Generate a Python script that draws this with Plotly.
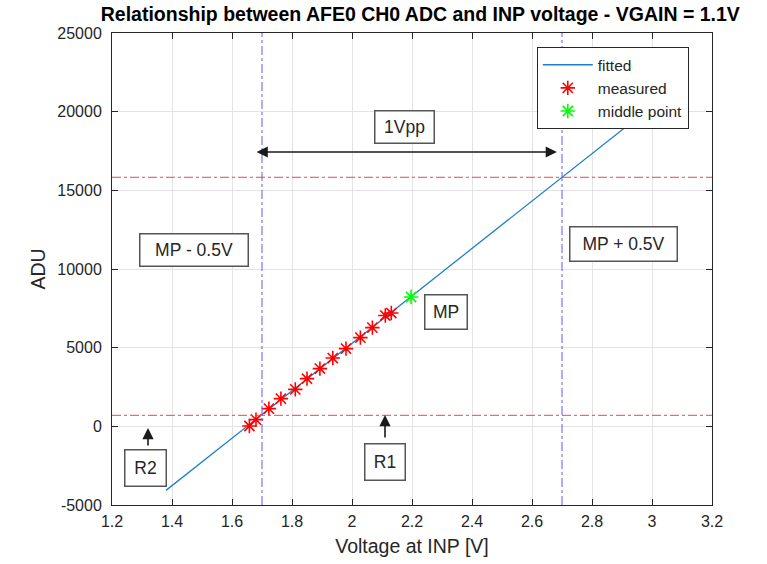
import plotly.graph_objects as go

# Data
meas_v = [1.658, 1.680, 1.723, 1.763, 1.811, 1.850, 1.893, 1.936, 1.980, 2.028, 2.068, 2.111, 2.131]
meas_adu = [20, 425, 1125, 1760, 2350, 3030, 3670, 4340, 4940, 5640, 6275, 7040, 7200]
mid_v = [2.197]
mid_adu = [8220]
fit_v = [1.38, 3.0]
fit_adu = [-4070, 20350]
vlines = [1.7, 2.7]
hlines = [700, 15830]

FONT = "Liberation Sans, Arial, Helvetica"
TXT = "#262626"

fig = go.Figure()
fig.add_trace(go.Scatter(x=fit_v, y=fit_adu, mode="lines", name="fitted",
                         line=dict(color="#1F80C8", width=1.3)))
fig.add_trace(go.Scatter(x=meas_v, y=meas_adu, mode="markers", name="measured",
                         marker=dict(symbol="asterisk-open", size=12, color="red",
                                     line=dict(color="red", width=1.6))))
fig.add_trace(go.Scatter(x=mid_v, y=mid_adu, mode="markers", name="middle point",
                         marker=dict(symbol="asterisk-open", size=12, color="#00FF00",
                                     line=dict(color="#00FF00", width=1.6))))

for v in vlines:
    fig.add_shape(type="line", x0=v, x1=v, y0=0, y1=1, xref="x", yref="paper",
                  line=dict(color="#5A5AFF", width=1, dash="dashdot"))
for h in hlines:
    fig.add_shape(type="line", x0=0, x1=1, y0=h, y1=h, xref="paper", yref="y",
                  line=dict(color="#FF4040", width=1, dash="dashdot"))


def textbox(x, y, text, w, h):
    fig.add_annotation(x=x, y=y, text=text, xref="x", yref="y", showarrow=False,
                       width=w, height=h, align="center", valign="middle",
                       bordercolor="#555555", borderwidth=1.5, borderpad=0,
                       bgcolor="white", font=dict(family=FONT, size=17.5, color=TXT))


textbox(2.175, 19023, "1Vpp", 58, 31)
textbox(1.473, 11206, "MP - 0.5V", 107, 31)
textbox(2.905, 11588, "MP + 0.5V", 106, 33)
textbox(2.313, 7250, "MP", 41, 33)
textbox(2.110, -2269, "R1", 39, 35)
textbox(1.312, -2650, "R2", 40, 35)


def arrow(x, y, ax, ay, both=False):
    kw = dict(x=x, y=y, ax=ax, ay=ay, xref="x", yref="y", axref="x", ayref="y",
              text="", showarrow=True, arrowhead=2, arrowsize=1.4,
              arrowwidth=1.6, arrowcolor="#1a1a1a")
    if both:
        kw.update(arrowside="end+start", startarrowhead=2, startarrowsize=1.4)
    fig.add_annotation(**kw)


arrow(2.683, 17435, 1.677, 17435, both=True)
arrow(2.110, 720, 2.110, -810)
arrow(1.320, -108, 1.320, -1316)

axis_common = dict(showgrid=True, gridcolor="#E3E3E3", gridwidth=1,
                   showline=True, linecolor=TXT, linewidth=1, mirror="ticks",
                   ticks="inside", ticklen=6, tickcolor=TXT, zeroline=False,
                   automargin=False,
                   tickfont=dict(family=FONT, size=16, color=TXT))

fig.update_xaxes(range=[1.2, 3.2],
                 tickvals=[1.2, 1.4, 1.6, 1.8, 2.0, 2.2, 2.4, 2.6, 2.8, 3.0, 3.2],
                 ticktext=["1.2", "1.4", "1.6", "1.8", "2", "2.2", "2.4", "2.6", "2.8", "3", "3.2"],
                 ticklabelstandoff=2,
                 title=dict(text="Voltage at INP [V]", standoff=10,
                            font=dict(family=FONT, size=19.5, color=TXT)),
                 **axis_common)
fig.update_yaxes(range=[-5000, 25000],
                 tickvals=[-5000, 0, 5000, 10000, 15000, 20000, 25000],
                 ticktext=["-5000", "0", "5000", "10000", "15000", "20000", "25000"],
                 ticklabelstandoff=6,
                 title=dict(text="ADU", standoff=6,
                            font=dict(family=FONT, size=19.5, color=TXT)),
                 **axis_common)

fig.update_layout(
    width=767, height=564,
    margin=dict(l=112, r=55, t=33, b=59),
    paper_bgcolor="white", plot_bgcolor="white",
    title=dict(text="<b>Relationship between AFE0 CH0 ADC and INP voltage - VGAIN = 1.1V</b>",
               x=0.548, xanchor="center", xref="container",
               y=0.974, yanchor="middle", yref="container",
               font=dict(family=FONT, size=19.5, color="black")),
    legend=dict(x=0.708, y=0.970, xanchor="left", yanchor="top",
                bordercolor=TXT, borderwidth=1, bgcolor="white",
                font=dict(family=FONT, size=15.5, color=TXT),
                tracegroupgap=0, itemwidth=50),
    showlegend=True,
)

fig.write_html("out.html")
